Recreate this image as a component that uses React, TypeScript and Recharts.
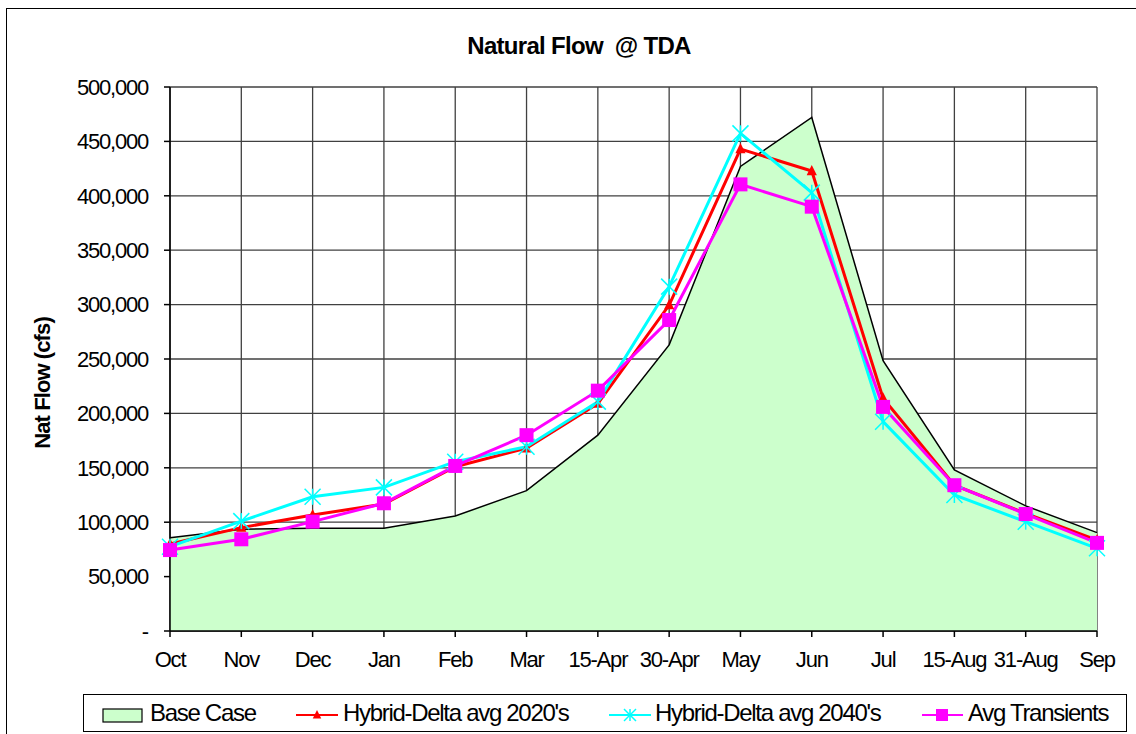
import { ComposedChart, Area, Line, XAxis, YAxis, CartesianGrid } from 'recharts'

const categories = ['Oct', 'Nov', 'Dec', 'Jan', 'Feb', 'Mar', '15-Apr', '30-Apr', 'May', 'Jun', 'Jul', '15-Aug', '31-Aug', 'Sep']
const baseCase = [85800, 93500, 94400, 94400, 105700, 129000, 180000, 263000, 427000, 472000, 248500, 148000, 115000, 90400]
const hybrid2020 = [80000, 95000, 106600, 116700, 151000, 168000, 209000, 299600, 443000, 422800, 214000, 134000, 108000, 83600]
const hybrid2040 = [77500, 101000, 123400, 132000, 155600, 169400, 210800, 316500, 457400, 402900, 192400, 125000, 100500, 76000]
const transients = [74400, 84300, 100500, 117400, 151700, 180000, 220900, 285800, 410500, 390000, 206000, 134000, 107500, 81000]
const yTicks = [0, 50000, 100000, 150000, 200000, 250000, 300000, 350000, 400000, 450000, 500000]

const data = categories.map((c, i) => ({
  month: c,
  base: baseCase[i],
  h2020: hybrid2020[i],
  h2040: hybrid2040[i],
  avg: transients[i],
}))

const FONT = '"Liberation Sans", Arial, sans-serif'

const formatY = (v: number) => (v === 0 ? '-' : v.toLocaleString('en-US'))

const Triangle = ({ cx, cy, size }: { cx: number; cy: number; size: number }) => (
  <path
    d={`M${cx},${cy - size} L${cx + size * 0.85},${cy + size * 0.7} L${cx - size * 0.85},${cy + size * 0.7} Z`}
    fill="#FF0000"
  />
)

const Star = ({ cx, cy, size }: { cx: number; cy: number; size: number }) => (
  <g stroke="#00FFFF" strokeWidth={1.5}>
    <line x1={cx - size} y1={cy - size} x2={cx + size} y2={cy + size} />
    <line x1={cx - size} y1={cy + size} x2={cx + size} y2={cy - size} />
    <line x1={cx} y1={cy - size} x2={cx} y2={cy + size} />
  </g>
)

const Square = ({ cx, cy, size }: { cx: number; cy: number; size: number }) => (
  <rect x={cx - size} y={cy - size} width={size * 2} height={size * 2} fill="#FF00FF" />
)

// recharts hands r=3 to dot renderers, so the marker size is set here instead
const triDot = (p: any) => (p.cx == null ? null : <Triangle key={`t${p.index}`} cx={p.cx} cy={p.cy} size={6} />)
const starDot = (p: any) => (p.cx == null ? null : <Star key={`s${p.index}`} cx={p.cx} cy={p.cy} size={8} />)
const squareDot = (p: any) => (p.cx == null ? null : <Square key={`q${p.index}`} cx={p.cx} cy={p.cy} size={7} />)

const legendText = {
  position: 'absolute',
  top: 4,
  fontFamily: FONT,
  fontSize: 24,
  letterSpacing: -1.3,
  lineHeight: '28px',
  color: '#000',
  whiteSpace: 'pre',
} as const

function LegendBox() {
  // positions are relative to the legend box (left 83, top 694)
  return (
    <div
      style={{
        position: 'absolute',
        left: 83,
        top: 694,
        width: 1044,
        height: 38,
        border: '1.5px solid #000',
        boxSizing: 'border-box',
        background: '#fff',
      }}
    >
      <svg width={1040} height={36} style={{ position: 'absolute', left: 0, top: 0 }}>
        <rect x={19} y={14} width={39} height={13} fill="#CCFFCC" stroke="#000" strokeWidth={1.2} />
        <line x1={212} y1={20} x2={254} y2={20} stroke="#FF0000" strokeWidth={2} />
        <Triangle cx={233} cy={20} size={5} />
        <line x1={525} y1={20} x2={567} y2={20} stroke="#00FFFF" strokeWidth={2} />
        <Star cx={546} cy={20} size={6} />
        <line x1={838} y1={20} x2={879} y2={20} stroke="#FF00FF" strokeWidth={2} />
        <Square cx={858} cy={20} size={6} />
      </svg>
      <span style={{ ...legendText, left: 66 }}>Base Case</span>
      <span style={{ ...legendText, left: 259 }}>Hybrid-Delta avg 2020's</span>
      <span style={{ ...legendText, left: 571 }}>Hybrid-Delta avg 2040's</span>
      <span style={{ ...legendText, left: 884 }}>Avg Transients</span>
    </div>
  )
}

const yLabel = () => (
  <text
    x={42}
    y={383}
    transform="rotate(-90 42 383)"
    textAnchor="middle"
    dominantBaseline="central"
    fontFamily={FONT}
    fontWeight="bold"
    fontSize={22}
    letterSpacing={-0.9}
    fill="#000"
  >
    Nat Flow (cfs)
  </text>
)

export default function App() {
  return (
    <div style={{ position: 'absolute', left: 0, top: 0, width: 1136, height: 734, overflow: 'hidden', background: '#fff' }}>
      <div style={{ position: 'absolute', left: 6, top: 8, width: 1150, height: 760, border: '1.5px solid #000' }} />
      <div
        style={{
          position: 'absolute',
          left: 0,
          width: 1136,
          top: 32,
          textAlign: 'center',
          paddingLeft: 22,
          boxSizing: 'border-box',
          fontFamily: FONT,
          fontWeight: 'bold',
          fontSize: 24,
          letterSpacing: -0.7,
          lineHeight: '28px',
          whiteSpace: 'pre',
        }}
      >
        {'Natural Flow  @ TDA'}
      </div>
      <div style={{ position: 'absolute', left: 0, top: 0 }}>
        <ComposedChart width={1136} height={734} data={data} margin={{ top: 87, right: 39, left: 0, bottom: 0 }}>
          <CartesianGrid stroke="#404040" strokeWidth={1.3} />
          <XAxis
            dataKey="month"
            scale="point"
            padding={{ left: 0, right: 0 }}
            height={103}
            tickSize={6}
            tickMargin={14}
            interval={0}
            stroke="#000"
            strokeWidth={1.5}
            tick={{ fill: '#000', fontFamily: FONT, fontSize: 22, letterSpacing: -1.2 }}
          />
          <YAxis
            width={170}
            domain={[0, 500000]}
            ticks={yTicks}
            tickFormatter={formatY}
            tickSize={6}
            tickMargin={16}
            stroke="#000"
            strokeWidth={1.5}
            tick={{ fill: '#000', fontFamily: FONT, fontSize: 22, letterSpacing: -1.2 }}
            label={{ content: yLabel }}
          />
          <Area
            type="linear"
            dataKey="base"
            fill="#CCFFCC"
            fillOpacity={1}
            stroke="#000"
            strokeWidth={1.5}
            isAnimationActive={false}
          />
          <Line type="linear" dataKey="h2020" stroke="#FF0000" strokeWidth={3} dot={triDot} activeDot={false} isAnimationActive={false} />
          <Line type="linear" dataKey="h2040" stroke="#00FFFF" strokeWidth={3} dot={starDot} activeDot={false} isAnimationActive={false} />
          <Line type="linear" dataKey="avg" stroke="#FF00FF" strokeWidth={3} dot={squareDot} activeDot={false} isAnimationActive={false} />
        </ComposedChart>
      </div>
      <LegendBox />
    </div>
  )
}
